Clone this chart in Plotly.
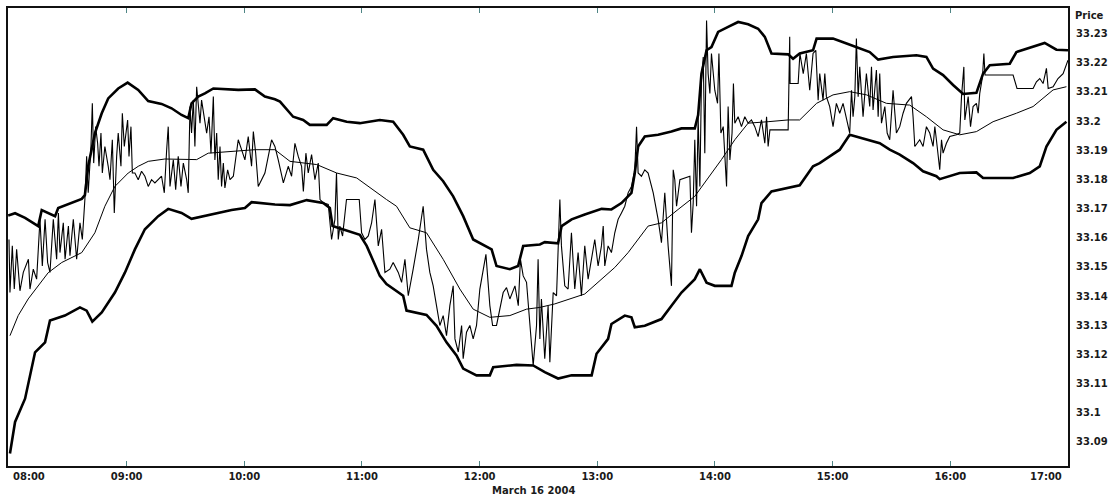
import pandas as pd
import plotly.graph_objects as go

# ---------------- data (minutes after 08:00, price) ----------------
SESSION_DATE = "2004-03-16 08:00"
DATE_LABEL = "March 16 2004"
hour_labels = ["08:00", "09:00", "10:00", "11:00", "12:00", "13:00", "14:00", "15:00", "16:00", "17:00"]
y_tick_values = [33.09, 33.10, 33.11, 33.12, 33.13, 33.14, 33.15, 33.16, 33.17, 33.18, 33.19, 33.20, 33.21, 33.22, 33.23]
y_tick_text = ["33.09", "33.1", "33.11", "33.12", "33.13", "33.14", "33.15", "33.16", "33.17", "33.18",
               "33.19", "33.2", "33.21", "33.22", "33.23"]

upper_band = [
    (-0.4, 33.1676), (3.1, 33.1684), (8.2, 33.1668), (14.9, 33.1640), (16.7, 33.1695), (20.0, 33.1685),
    (23.5, 33.1674), (25.1, 33.1702), (37.1, 33.1733), (38.7, 33.1746), (40.4, 33.1845), (43.8, 33.1958),
    (47.3, 33.2027), (50.6, 33.2078), (55.7, 33.2112), (60.5, 33.2132), (65.9, 33.2107), (71.0, 33.2069),
    (77.8, 33.2059), (82.9, 33.2044), (88.0, 33.2021), (91.4, 33.2010), (93.1, 33.2061), (96.5, 33.2084),
    (99.9, 33.2095), (104.2, 33.2112), (116.9, 33.2107), (125.4, 33.2109), (130.5, 33.2084), (135.6, 33.2075),
    (138.2, 33.2067), (144.9, 33.2015), (150.0, 33.2004), (153.4, 33.1987), (162.0, 33.1987), (165.3, 33.2010),
    (172.2, 33.1998), (178.9, 33.1993), (184.0, 33.1998), (189.1, 33.2004), (195.9, 33.1998), (201.0, 33.1953),
    (204.4, 33.1913), (211.2, 33.1902), (216.3, 33.1833), (221.4, 33.1794), (226.5, 33.1742), (231.6, 33.1674),
    (236.7, 33.1594), (241.8, 33.1577), (246.1, 33.1560), (248.6, 33.1503), (255.4, 33.1492), (259.6, 33.1503),
    (262.2, 33.1572), (270.7, 33.1577), (273.2, 33.1585), (280.0, 33.1581), (281.8, 33.1640), (286.9, 33.1663),
    (293.6, 33.1680), (302.2, 33.1699), (307.2, 33.1697), (312.3, 33.1719), (317.4, 33.1754), (319.1, 33.1822),
    (320.8, 33.1913), (324.2, 33.1947), (331.0, 33.1953), (337.8, 33.1964), (342.9, 33.1975), (349.7, 33.1975),
    (351.4, 33.2021), (353.1, 33.2163), (355.7, 33.2243), (358.2, 33.2254), (361.6, 33.2306), (366.7, 33.2323),
    (371.8, 33.2340), (376.9, 33.2332), (382.0, 33.2317), (385.4, 33.2289), (388.8, 33.2232), (397.3, 33.2229),
    (399.8, 33.2214), (403.2, 33.2232), (410.0, 33.2243), (411.8, 33.2283), (420.2, 33.2283), (427.1, 33.2266),
    (432.2, 33.2254), (438.9, 33.2237), (443.2, 33.2211), (450.8, 33.2220), (462.7, 33.2226), (467.8, 33.2220),
    (471.2, 33.2180), (476.3, 33.2158), (481.4, 33.2124), (486.5, 33.2093), (493.3, 33.2097), (496.7, 33.2163),
    (500.1, 33.2192), (510.3, 33.2197), (513.7, 33.2237), (522.2, 33.2254), (528.1, 33.2268), (534.1, 33.2245),
    (540.0, 33.2243),
]

lower_band = [
    (0.5, 33.0860), (3.1, 33.0968), (8.2, 33.1048), (13.3, 33.1207), (18.4, 33.1241), (20.9, 33.1316),
    (28.5, 33.1333), (36.2, 33.1361), (39.6, 33.1350), (42.5, 33.1312), (47.3, 33.1344), (54.0, 33.1412),
    (59.1, 33.1480), (64.2, 33.1560), (69.3, 33.1629), (76.1, 33.1674), (81.2, 33.1699), (88.0, 33.1685),
    (93.1, 33.1665), (103.3, 33.1680), (113.5, 33.1695), (120.3, 33.1702), (123.7, 33.1722), (135.6, 33.1714),
    (143.3, 33.1712), (151.8, 33.1729), (160.2, 33.1719), (163.6, 33.1702), (165.0, 33.1640), (178.9, 33.1610),
    (182.4, 33.1572), (189.1, 33.1469), (192.5, 33.1441), (201.0, 33.1401), (202.7, 33.1350), (212.9, 33.1335),
    (218.0, 33.1298), (223.1, 33.1241), (228.2, 33.1196), (231.6, 33.1151), (238.4, 33.1128), (245.2, 33.1128),
    (246.9, 33.1156), (258.8, 33.1164), (267.3, 33.1162), (273.2, 33.1139), (280.0, 33.1117), (286.9, 33.1128),
    (297.1, 33.1128), (299.6, 33.1202), (305.5, 33.1253), (307.2, 33.1304), (314.0, 33.1333), (317.4, 33.1327),
    (319.1, 33.1293), (324.2, 33.1298), (332.7, 33.1321), (337.8, 33.1367), (342.9, 33.1412), (349.7, 33.1458),
    (352.3, 33.1492), (355.7, 33.1446), (359.9, 33.1435), (368.4, 33.1435), (370.1, 33.1480), (373.5, 33.1537),
    (376.9, 33.1606), (382.0, 33.1663), (383.7, 33.1719), (388.8, 33.1759), (397.3, 33.1771), (403.2, 33.1780),
    (410.0, 33.1845), (413.4, 33.1856), (418.5, 33.1879), (423.6, 33.1902), (428.7, 33.1953), (437.3, 33.1936),
    (444.0, 33.1924), (449.1, 33.1902), (454.2, 33.1885), (461.0, 33.1856), (466.1, 33.1828), (472.9, 33.1811),
    (474.6, 33.1801), (484.8, 33.1822), (493.3, 33.1824), (496.7, 33.1805), (512.0, 33.1805), (520.5, 33.1822),
    (525.6, 33.1845), (529.0, 33.1913), (534.1, 33.1970), (539.2, 33.1998),
]

middle_band = [
    (0.5, 33.1264), (4.7, 33.1333), (9.8, 33.1390), (14.9, 33.1435), (20.0, 33.1480), (26.9, 33.1515),
    (37.1, 33.1549), (43.8, 33.1617), (48.9, 33.1708), (54.0, 33.1776), (60.8, 33.1822), (65.9, 33.1845),
    (71.0, 33.1862), (79.5, 33.1870), (95.7, 33.1868), (101.6, 33.1890), (113.5, 33.1896), (125.4, 33.1902),
    (135.6, 33.1902), (143.3, 33.1862), (156.9, 33.1851), (167.1, 33.1822), (177.3, 33.1805), (184.0, 33.1771),
    (192.5, 33.1731), (197.6, 33.1708), (204.4, 33.1634), (212.9, 33.1617), (221.4, 33.1526), (229.9, 33.1424),
    (236.7, 33.1355), (245.2, 33.1327), (255.4, 33.1333), (263.9, 33.1355), (270.7, 33.1361), (278.3, 33.1373),
    (293.6, 33.1407), (308.9, 33.1498), (315.7, 33.1549), (325.9, 33.1640), (332.7, 33.1651), (341.2, 33.1697),
    (349.7, 33.1742), (356.5, 33.1805), (363.3, 33.1868), (370.1, 33.1936), (376.9, 33.1993), (387.1, 33.1998),
    (397.3, 33.2004), (403.2, 33.2004), (411.8, 33.2061), (420.2, 33.2090), (428.7, 33.2101), (437.3, 33.2090),
    (447.4, 33.2061), (459.3, 33.2055), (467.8, 33.2015), (476.3, 33.1970), (484.8, 33.1953), (493.3, 33.1964),
    (501.8, 33.1998), (513.7, 33.2027), (522.2, 33.2050), (532.4, 33.2107), (539.2, 33.2118),
]

price = [
    (0.0, 33.1594), (0.5, 33.1412), (1.7, 33.1572), (2.7, 33.1424), (3.9, 33.1560), (5.6, 33.1418),
    (7.3, 33.1481), (9.9, 33.1526), (10.7, 33.1424), (12.4, 33.1492), (14.1, 33.1458), (15.8, 33.1663),
    (17.0, 33.1503), (18.4, 33.1663), (19.7, 33.1515), (20.9, 33.1481), (22.6, 33.1663), (24.3, 33.1526),
    (25.2, 33.1685), (26.0, 33.1549), (27.7, 33.1651), (28.6, 33.1526), (30.3, 33.1640), (31.1, 33.1538),
    (32.8, 33.1663), (34.5, 33.1526), (36.2, 33.1651), (37.4, 33.1594), (38.7, 33.1731), (39.6, 33.1879),
    (40.4, 33.1754), (41.8, 33.1913), (42.5, 33.2061), (43.2, 33.1856), (44.2, 33.1981), (45.2, 33.1924),
    (45.9, 33.1845), (46.9, 33.1959), (47.6, 33.1822), (48.9, 33.1913), (50.6, 33.1845), (51.5, 33.1799),
    (52.7, 33.1936), (53.7, 33.1685), (54.9, 33.1879), (55.7, 33.1959), (57.1, 33.1845), (57.8, 33.2027),
    (58.8, 33.1913), (59.5, 33.1947), (60.5, 33.2004), (61.2, 33.1879), (62.2, 33.1981), (62.9, 33.1822),
    (64.2, 33.1822), (65.9, 33.1799), (67.6, 33.1828), (69.3, 33.1811), (71.0, 33.1776), (72.7, 33.1799),
    (74.4, 33.1788), (77.8, 33.1811), (79.2, 33.1754), (80.4, 33.1902), (81.2, 33.1981), (82.1, 33.1776),
    (83.8, 33.1867), (85.0, 33.1765), (86.3, 33.1879), (87.7, 33.1776), (88.9, 33.1856), (90.6, 33.1799),
    (91.4, 33.1754), (92.3, 33.2050), (93.1, 33.1959), (94.0, 33.2072), (94.8, 33.1913), (95.7, 33.2118),
    (96.5, 33.2050), (97.4, 33.1993), (98.2, 33.2072), (99.6, 33.2015), (100.8, 33.1959), (102.0, 33.2015),
    (103.0, 33.1890), (104.2, 33.2084), (105.0, 33.1867), (105.9, 33.1959), (106.7, 33.1799), (107.6, 33.1913),
    (108.4, 33.1776), (109.3, 33.1856), (110.1, 33.1771), (111.5, 33.1833), (112.7, 33.1799), (114.4, 33.1811),
    (116.9, 33.1936), (118.6, 33.1902), (120.3, 33.1867), (122.0, 33.1947), (123.7, 33.1845), (124.6, 33.1964),
    (125.8, 33.1890), (127.1, 33.1776), (130.5, 33.1822), (133.9, 33.1936), (135.6, 33.1913),
    (137.3, 33.1867), (139.9, 33.1788), (142.4, 33.1845), (144.1, 33.1811), (145.8, 33.1924), (147.5, 33.1879),
    (149.2, 33.1845), (150.1, 33.1759), (151.4, 33.1890), (152.6, 33.1822), (154.3, 33.1885), (156.0, 33.1799),
    (157.7, 33.1856), (158.6, 33.1731), (160.2, 33.1720), (162.8, 33.1714), (164.5, 33.1594), (166.2, 33.1663),
    (167.0, 33.1822), (167.9, 33.1594), (168.7, 33.1640), (170.1, 33.1606), (172.1, 33.1731), (178.6, 33.1731),
    (179.8, 33.1617), (181.5, 33.1594), (183.2, 33.1606), (184.9, 33.1651), (186.6, 33.1731), (188.3, 33.1572),
    (190.0, 33.1629), (191.7, 33.1481), (194.2, 33.1492), (195.9, 33.1515), (198.5, 33.1481), (200.2, 33.1447),
    (201.9, 33.1526), (203.6, 33.1401), (206.1, 33.1492), (208.7, 33.1594), (211.2, 33.1708), (212.9, 33.1560),
    (214.6, 33.1481), (216.3, 33.1435), (218.0, 33.1367), (219.7, 33.1299), (221.4, 33.1333), (223.1, 33.1264),
    (224.8, 33.1367), (226.5, 33.1435), (227.4, 33.1253), (229.1, 33.1208), (230.8, 33.1299), (231.6, 33.1185),
    (233.3, 33.1276), (235.0, 33.1299), (236.7, 33.1253), (238.4, 33.1299), (240.1, 33.1424), (243.2, 33.1543),
    (245.2, 33.1367), (246.6, 33.1299), (248.6, 33.1299), (252.0, 33.1412), (253.7, 33.1429), (255.4, 33.1390),
    (258.0, 33.1435), (259.7, 33.1367), (260.8, 33.1526), (262.2, 33.1469), (263.9, 33.1447), (265.6, 33.1299),
    (267.3, 33.1162), (269.0, 33.1299),
    (269.8, 33.1526), (270.7, 33.1253), (271.5, 33.1390), (273.2, 33.1185), (274.9, 33.1367), (275.8, 33.1173),
    (277.5, 33.1412), (279.2, 33.1401), (280.9, 33.1731), (281.7, 33.1572), (283.4, 33.1435), (285.1, 33.1424),
    (286.8, 33.1617), (288.5, 33.1424), (290.2, 33.1549), (291.9, 33.1401), (293.6, 33.1572), (295.3, 33.1458),
    (297.0, 33.1526), (298.7, 33.1594), (300.4, 33.1503), (302.1, 33.1572), (303.0, 33.1640), (303.8, 33.1503),
    (305.5, 33.1572), (307.2, 33.1549), (308.9, 33.1617), (310.6, 33.1663), (312.3, 33.1685), (314.0, 33.1708),
    (315.7, 33.1754), (317.4, 33.1776), (319.1, 33.1833), (320.0, 33.1981), (320.8, 33.1822), (322.5, 33.1811),
    (324.2, 33.1833), (325.9, 33.1822), (328.5, 33.1754), (331.0, 33.1663), (332.7, 33.1583), (334.4, 33.1754),
    (336.1, 33.1572), (337.8, 33.1435), (338.7, 33.1833), (339.5, 33.1799), (340.4, 33.1708), (342.1, 33.1799),
    (347.2, 33.1811), (348.0, 33.1617), (348.9, 33.1720), (349.7, 33.1936), (350.6, 33.1708), (351.4, 33.2015),
    (352.3, 33.1776), (353.1, 33.2141), (354.0, 33.2220), (354.8, 33.1890), (355.7, 33.2345), (356.5, 33.2163),
    (357.4, 33.2095), (358.2, 33.2232), (359.9, 33.2106), (361.3, 33.2061), (362.0, 33.2232), (363.0, 33.1959),
    (364.2, 33.1981), (365.0, 33.1867), (365.9, 33.1776), (366.7, 33.2050), (367.6, 33.1867), (368.7, 33.1959),
    (369.4, 33.2129), (370.1, 33.1993), (371.8, 33.2015), (373.5, 33.1981), (375.2, 33.2015), (376.9, 33.1993),
    (378.6, 33.2004), (380.3, 33.1981), (382.0, 33.1947), (383.7, 33.2004), (385.4, 33.1924), (386.3, 33.2015),
    (387.1, 33.1913), (388.0, 33.1970), (397.3, 33.1970), (398.1, 33.2289), (398.3, 33.2129), (402.4, 33.2129),
    (403.3, 33.2232), (405.0, 33.2163), (406.6, 33.2232), (408.3, 33.2106), (410.0, 33.2232), (411.4, 33.2243),
    (412.6, 33.2072), (413.4, 33.2163), (415.1, 33.2072), (416.0, 33.2163), (416.8, 33.2084), (418.5, 33.2050),
    (420.2, 33.1981), (421.9, 33.2061), (423.6, 33.2027), (425.3, 33.2061), (427.0, 33.2015), (428.7, 33.1959),
    (429.6, 33.2106), (430.4, 33.2015), (431.3, 33.2084), (432.1, 33.2283), (433.0, 33.2084), (433.8, 33.2186),
    (435.5, 33.2015), (437.2, 33.2163), (438.9, 33.2050), (439.8, 33.2186), (440.6, 33.2038), (442.3, 33.2175),
    (443.2, 33.2015), (444.0, 33.2163), (444.9, 33.1993), (446.6, 33.2050), (447.8, 33.1959), (449.1, 33.1936),
    (450.8, 33.2106), (452.5, 33.1959), (454.2, 33.1981), (455.9, 33.2027), (457.6, 33.2061), (460.2, 33.2084),
    (461.0, 33.2015), (461.9, 33.1913), (464.4, 33.1936), (466.1, 33.1913), (467.8, 33.1981), (469.5, 33.1959),
    (471.2, 33.1913), (472.1, 33.1981), (472.9, 33.1936), (474.6, 33.1833), (475.5, 33.1936), (476.3, 33.1890),
    (478.0, 33.1924), (479.7, 33.1947), (483.1, 33.1953), (484.8, 33.1959), (485.7, 33.2084), (486.9, 33.2186),
    (487.4, 33.2004), (489.1, 33.2084), (490.3, 33.1981), (491.6, 33.2050), (493.3, 33.2061), (494.2, 33.2027),
    (495.0, 33.2095), (496.4, 33.2152), (497.1, 33.2232), (497.7, 33.2158), (512.0, 33.2158), (514.0, 33.2112),
    (522.2, 33.2112), (523.9, 33.2135), (525.6, 33.2146), (527.3, 33.2129), (529.0, 33.2181), (529.9, 33.2112),
    (532.4, 33.2118), (534.9, 33.2146), (537.5, 33.2163), (540.0, 33.2209),
]

# ---------------- figure ----------------
base = pd.Timestamp(SESSION_DATE)


def to_xy(pairs):
    xs = [base + pd.Timedelta(minutes=m) for m, _ in pairs]
    ys = [v for _, v in pairs]
    return xs, ys


hour_ts = [base + pd.Timedelta(hours=i) for i in range(len(hour_labels))]
tick_text = [""] + hour_labels[1:-1] + [""]

AXIS_FONT = dict(family="DejaVu Sans", size=10, color="#1a1a1a", weight="bold")

fig = go.Figure()
for name, series, width in [("Upper band", upper_band, 2.6), ("Lower band", lower_band, 2.6),
                            ("Price", price, 1.1), ("Moving average", middle_band, 1.0)]:
    xs, ys = to_xy(series)
    fig.add_trace(go.Scatter(x=xs, y=ys, mode="lines", name=name,
                             line=dict(color="black", width=width), hoverinfo="skip"))

fig.update_layout(
    width=1117, height=502,
    margin=dict(l=8, r=49, t=6, b=36),
    paper_bgcolor="white", plot_bgcolor="white",
    showlegend=False,
    xaxis=dict(
        type="date",
        range=[base - pd.Timedelta(minutes=0.5), base + pd.Timedelta(minutes=540)],
        tickvals=hour_ts, ticktext=tick_text,
        ticks="inside", ticklen=5, tickwidth=1, tickcolor="#4f8585",
        showline=True, linecolor="#111111", linewidth=2, mirror="ticks",
        showgrid=False, zeroline=False, tickfont=AXIS_FONT,
    ),
    yaxis=dict(
        side="right",
        range=[33.0817, 33.2388],
        tickvals=y_tick_values, ticktext=y_tick_text,
        ticks="", ticklabelstandoff=4,
        showline=True, linecolor="#111111", linewidth=2, mirror=True,
        showgrid=False, zeroline=False, tickfont=AXIS_FONT,
    ),
    annotations=[
        dict(text="Price", xref="paper", yref="paper", x=1, y=1, xanchor="left", yanchor="middle",
             xshift=5, yshift=-7, showarrow=False, font=AXIS_FONT),
        dict(text=hour_labels[0], xref="x", yref="paper", x=hour_ts[0], y=0, xanchor="left",
             yanchor="top", xshift=2, yshift=-3, showarrow=False, font=AXIS_FONT),
        dict(text=hour_labels[-1], xref="x", yref="paper", x=hour_ts[-1], y=0, xanchor="right",
             yanchor="top", xshift=-4, yshift=-3, showarrow=False, font=AXIS_FONT),
        dict(text=DATE_LABEL, xref="paper", yref="paper", x=0.496, y=0, xanchor="center",
             yanchor="top", yshift=-17, showarrow=False, font=AXIS_FONT),
    ],
)

# the page's default body margin would shift the fixed-size figure; remove it
fig.write_html("out.html", config={"displayModeBar": False},
               post_script="document.body.style.margin='0';")
